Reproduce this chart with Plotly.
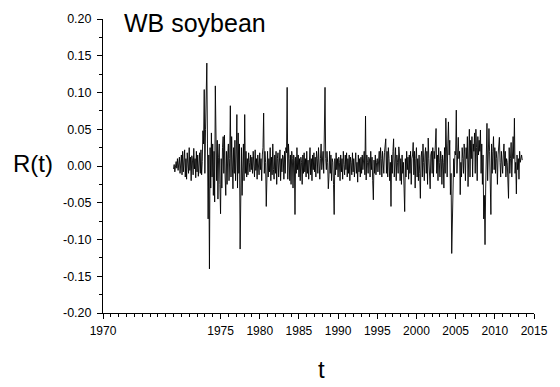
import plotly.graph_objects as go
import pandas as pd

start_year = 1969
returns = [
    # 1969
    -.004, .002, -.008, .003, .006, -.003, .010, -.006, .004, .012, -.010, .008,
    # 1970
    .015, -.012, .020, -.008, .005, .022, -.015, .010, -.018, .018, .004, -.010,
    # 1971
    .025, -.006, .012, -.020, .014, .008, -.012, .024, -.004, .010, -.016, .020,
    # 1972
    -.008, .015, -.014, .005, .018, -.010, .022, -.012, .006, .048, .030, .104,
    # 1973
    -.010, .050, .085, .140, .030, -.072, .015, -.140, .025, -.030, .045, -.015,
    # 1974
    .030, -.040, .020, -.049, .109, .055, -.020, .035, -.045, .012, .030, -.025,
    # 1975
    -.065, .010, -.030, .025, .040, -.010, .042, -.015, -.040, .020, -.025, .015,
    # 1976
    .030, -.020, .010, .082, -.015, .040, -.010, -.031, .025, -.010, .035, -.020,
    # 1977
    .015, .070, -.030, .045, -.010, .030, -.113, .010, .025, -.040, .015, .030,
    # 1978
    -.020, .070, -.010, .020, -.015, .010, -.012, .018, .005, -.008, .015, -.005,
    # 1979
    .012, -.010, .020, .008, -.015, .022, -.006, .010, -.018, .015, .004, -.012,
    # 1980
    .018, -.005, .010, -.020, .015, .025, .072, -.010, .020, .005, -.055, .010,
    # 1981
    .020, -.015, .010, -.008, .025, -.020, .012, -.012, .030, -.005, -.018, .015,
    # 1982
    -.010, .020, -.025, .010, .018, -.015, .005, .022, -.020, .010, -.008, .015,
    # 1983
    .012, -.018, .020, -.010, .025, .018, .107, -.018, .030, .010, -.020, .015,
    # 1984
    -.025, .020, .010, -.030, .015, .008, -.066, .012, -.010, .025, -.005, .015,
    # 1985
    -.015, .010, -.020, .012, .005, -.025, .015, -.010, .018, -.008, .010, -.015,
    # 1986
    .020, -.010, .008, -.018, .012, .025, -.012, .010, -.020, .015, -.005, .018,
    # 1987
    -.008, .012, -.015, .020, .010, -.010, .025, .005, -.018, .010, .030, -.005,
    # 1988
    .015, .020, -.010, .035, .107, .010, -.005, .020, .005, -.031, -.015, .020,
    # 1989
    -.010, .015, -.020, .010, .005, -.025, -.066, .010, -.012, .018, -.005, .010,
    # 1990
    -.015, .012, .005, -.020, .015, -.008, .010, -.018, .020, .002, -.012, .015,
    # 1991
    -.005, .018, -.015, .010, -.010, .015, -.020, .012, .005, -.012, .018, -.008,
    # 1992
    .010, -.015, .012, .018, -.010, .005, -.022, .015, -.008, .010, -.015, .012,
    # 1993
    -.010, .015, -.005, .010, .020, -.012, .068, -.019, .015, .005, -.010, .012,
    # 1994
    .010, -.015, .020, -.005, .012, -.020, -.046, .008, -.010, .015, -.012, .005,
    # 1995
    .010, -.008, .015, .020, -.012, .025, .010, -.015, .020, .005, -.010, .018,
    # 1996
    .030, .037, -.010, .020, -.015, .025, .010, -.020, .005, -.055, .015, -.010,
    # 1997
    .020, .037, -.015, .010, .025, -.020, .015, .005, -.010, .026, .015, -.020,
    # 1998
    .010, -.025, .015, -.010, .005, -.030, -.062, .010, -.015, .020, -.005, .012,
    # 1999
    -.018, .015, -.010, .020, -.025, .010, .015, .032, -.012, .020, -.030, .010,
    # 2000
    .025, -.015, .010, -.020, .015, -.010, -.044, .012, .020, -.015, .030, .005,
    # 2001
    -.020, .015, .025, -.010, .020, -.025, .038, .010, -.015, -.031, .015, .020,
    # 2002
    -.010, .025, -.015, .020, .010, .030, .051, -.010, .015, -.020, .025, .005,
    # 2003
    -.015, .020, .010, -.025, .015, .005, -.030, .025, -.010, .065, .020, -.015,
    # 2004
    .030, .060, .015, .035, -.039, -.010, -.119, -.060, -.020, .010, -.015, .020,
    # 2005
    .015, .076, -.010, .030, .039, .010, .020, -.039, .005, -.015, .025, .010,
    # 2006
    -.010, .030, .015, -.020, .025, .010, .040, -.028, .010, .050, -.015, .035,
    # 2007
    .010, .040, -.015, .030, .020, .045, -.010, .050, .025, -.020, .040, .015,
    # 2008
    .035, .020, .049, -.010, .030, -.025, .015, -.072, -.040, -.107, -.030, .010,
    # 2009
    .058, -.020, .030, .051, .020, -.015, -.066, .030, -.010, .020, .040, -.005,
    # 2010
    .025, -.010, .020, .010, -.025, .015, .030, .039, .005, -.015, .020, .010,
    # 2011
    -.010, .015, .030, .000, .020, -.015, .010, .005, -.020, -.044, .025, -.010,
    # 2012
    .010, .032, -.015, .020, .040, .010, .065, -.010, .005, -.038, .015, -.005,
    # 2013
    .010, -.018, .020, .005, .012, .015, .008,
]
dates = pd.date_range(f"{start_year}-01-01", periods=len(returns), freq="MS")
t_years = [d.year + (d.month - 1) / 12 for d in dates]

x_tick_vals = [1960, 1975, 1980, 1985, 1990, 1995, 2000, 2005, 2010, 2015]
x_tick_text = ["1970", "1975", "1980", "1985", "1990", "1995", "2000", "2005", "2010", "2015"]
y_tick_vals = [-0.20, -0.15, -0.10, -0.05, 0.00, 0.05, 0.10, 0.15, 0.20]
y_tick_text = ["-0.20", "-0.15", "-0.10", "-0.05", "0.00", "0.05", "0.10", "0.15", "0.20"]

font_family = "Arial, Liberation Sans, sans-serif"

fig = go.Figure()
fig.add_trace(go.Scatter(x=t_years, y=returns, mode="lines",
                         line=dict(color="black", width=0.9), showlegend=False))

fig.update_layout(
    width=560, height=387,
    margin=dict(l=103, r=16, t=15, b=74),
    plot_bgcolor="white", paper_bgcolor="white",
    font=dict(family=font_family, color="black", size=12),
    xaxis=dict(range=[1960, 2015], tickmode="array", tickvals=x_tick_vals, ticktext=x_tick_text,
               ticks="outside", ticklen=5, tickwidth=1, tickcolor="black",
               showline=True, linecolor="black", linewidth=1, showgrid=False, zeroline=False,
               minor=dict(dtick=1, ticks="outside", ticklen=3, tickcolor="black", showgrid=False),
               tickfont=dict(size=12), ticklabelstandoff=2),
    yaxis=dict(range=[-0.2, 0.2], tickmode="array", tickvals=y_tick_vals, ticktext=y_tick_text,
               ticks="outside", ticklen=5, tickwidth=1, tickcolor="black",
               showline=True, linecolor="black", linewidth=1, showgrid=False, zeroline=False,
               minor=dict(dtick=0.025, tick0=0, ticks="outside", ticklen=3, tickcolor="black", showgrid=False),
               tickfont=dict(size=12.5), ticklabelstandoff=3),
    annotations=[
        dict(text="WB soybean", xref="paper", yref="paper", x=0.045, y=0.985,
             xanchor="left", yanchor="middle", showarrow=False, font=dict(size=25)),
        dict(text="R(t)", xref="paper", yref="paper", x=-0.163, y=0.507,
             xanchor="center", yanchor="middle", showarrow=False, font=dict(size=24)),
        dict(text="t", xref="paper", yref="paper", x=0.508, y=-0.191,
             xanchor="center", yanchor="middle", showarrow=False, font=dict(size=24)),
    ],
)

fig.write_html("out.html")
